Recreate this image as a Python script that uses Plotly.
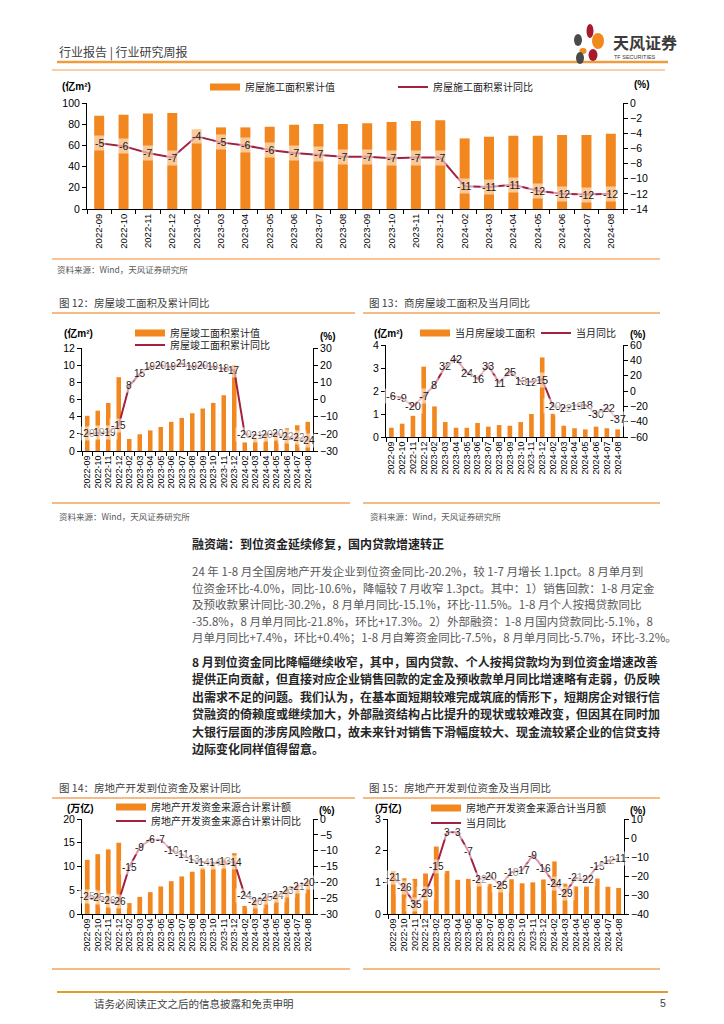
import plotly.graph_objects as go

# ---------------- data ----------------
categories = ["2022-09", "2022-10", "2022-11", "2022-12",
              "2023-02", "2023-03", "2023-04", "2023-05", "2023-06", "2023-07",
              "2023-08", "2023-09", "2023-10", "2023-11", "2023-12",
              "2024-02", "2024-03", "2024-04", "2024-05", "2024-06", "2024-07", "2024-08"]

# Chart (top): construction area, cumulative (亿m²) and cumulative YoY (%)
c1_bar = [88.0, 89.0, 90.0, 90.6, 75.3, 77.0, 77.0, 77.6, 79.5, 80.3, 80.2, 81.0,
          82.0, 83.0, 83.8, 66.6, 68.2, 69.1, 69.1, 69.8, 69.8, 71.0]
c1_line = [-5.3, -5.7, -6.6, -7.2, -4.4, -5.2, -5.6, -6.2, -6.6, -6.8, -7.1, -7.1,
           -7.3, -7.2, -7.2, -11.0, -11.1, -10.8, -11.6, -12.0, -12.1, -12.0]

# Fig 12: completed area cumulative (亿m²) and cumulative YoY (%)
c12_bar = [4.1, 4.7, 5.6, 8.6, 1.4, 1.95, 2.4, 2.8, 3.4, 3.85, 4.4, 4.95,
           5.6, 6.5, 10.0, 1.0, 1.55, 1.87, 2.22, 2.65, 3.0, 3.4]
c12_line = [-19.9, -19.3, -19.1, -15.0, 8.0, 15.0, 19.0, 20.0, 19.0, 21.0, 19.0, 20.0,
            19.0, 18.0, 17.0, -20.2, -20.7, -20.4, -19.6, -21.8, -22.2, -23.6]

# Fig 13: completed area monthly (亿m²) and monthly YoY (%)
c13_bar = [0.40, 0.58, 0.92, 3.06, 1.33, 0.65, 0.40, 0.40, 0.61, 0.45, 0.52, 0.49,
           0.65, 1.00, 3.46, 1.01, 0.49, 0.38, 0.33, 0.45, 0.38, 0.33]
c13_line = [-6, -9, -20, -7, 8, 32, 42, 24, 16, 33, 11, 25,
            13, 12, 15, -20, -22, -19, -18, -30, -22, -37]

# Fig 14: development funds cumulative (万亿) and cumulative YoY (%)
c14_bar = [11.4, 12.6, 13.6, 15.0, 2.3, 3.6, 4.6, 5.8, 6.9, 7.9, 8.9, 9.8,
           10.7, 11.7, 12.8, 1.7, 2.8, 3.6, 4.3, 5.4, 6.2, 7.1]
c14_line = [-24.6, -24.7, -25.7, -25.9, -15.2, -9.0, -6.4, -6.6, -9.8, -11.2, -12.9, -13.6,
            -13.8, -13.4, -13.6, -24.1, -26.0, -24.9, -24.3, -22.6, -21.3, -20.2]

# Fig 15: development funds monthly (万亿) and monthly YoY (%)
c15_bar = [1.36, 1.13, 1.11, 1.28, 2.13, 1.36, 1.08, 1.11, 1.02, 0.95, 0.97, 1.11,
           0.97, 1.00, 1.09, 1.66, 0.96, 0.87, 0.87, 1.12, 0.86, 0.82]
c15_line = [-21, -26, -35, -29, -15, 3, 3, -7, -22, -20, -25, -18,
            -17, -9, -16, -24, -29, -21, -22, -15, -12, -11]

# ---------------- page geometry helpers ----------------
# the page body has an 8 px default margin, so the figure is 8 px smaller
OFF = 8
W, H = 724 - OFF, 1024 - OFF
ORANGE = "#F3871F"
MAROON = "#A3203F"
CJK = "Noto Sans CJK SC"
LAT = "Liberation Sans, Arial, Noto Sans CJK SC"


def fx(px):
    return (px - OFF) / W


def fy(py):
    return 1 - (py - OFF) / H


fig = go.Figure()

charts = [
    dict(bar=c1_bar, line=c1_line, x0=87, x1=623, y0=103, y1=209,
         lr=[0, 100], ld=20, rr=[-14, 0], rd=2,
         bname="房屋施工面积累计值", lname="房屋施工面积累计同比",
         bleg=(247, 87), lleg=(435, 87), unit="(亿m²)", unitpos=(76, 86), pctpos=(642, 85),
         lsize=10.5, bargap=0.59, xsize=9.5),
    dict(bar=c12_bar, line=c12_line, x0=82, x1=313, y0=348, y1=451,
         lr=[0, 12], ld=2, rr=[-30, 30], rd=10,
         bname="房屋竣工面积累计值", lname="房屋竣工面积累计同比",
         bleg=(172, 333), lleg=(172, 345), unit="(亿m²)", unitpos=(78, 333), pctpos=(328, 336),
         lsize=10, bargap=0.57, xsize=9),
    dict(bar=c13_bar, line=c13_line, x0=386, x1=623, y0=345, y1=437,
         lr=[0, 4], ld=1, rr=[-60, 60], rd=20,
         bname="当月房屋竣工面积", lname="当月同比",
         bleg=(457, 333), lleg=(578, 333), unit="(亿m²)", unitpos=(389, 333), pctpos=(638, 334),
         lsize=11, bargap=0.57, xsize=9),
    dict(bar=c14_bar, line=c14_line, x0=82, x1=313, y0=819, y1=914,
         lr=[0, 20], ld=5, rr=[-30, 0], rd=5,
         bname="房地产开发资金来源合计累计额", lname="房地产开发资金来源合计累计同比",
         bleg=(153, 807), lleg=(153, 821), unit="(万亿)", unitpos=(80, 808), pctpos=(327, 810),
         lsize=10, bargap=0.55, xsize=9),
    dict(bar=c15_bar, line=c15_line, x0=388, x1=624, y0=819, y1=914,
         lr=[0, 3], ld=1, rr=[-40, 10], rd=10,
         bname="房地产开发资金来源合计当月额", lname="当月同比",
         bleg=(468, 808), lleg=(468, 823), unit="(万亿)", unitpos=(388, 808), pctpos=(638, 810),
         lsize=10, bargap=0.55, xsize=9),
]

annotations = []
shapes = []
layout_axes = {}
legends = {}


def axname(prefix, n):
    return prefix if n == 1 else f"{prefix}{n}"


for k, c in enumerate(charts):
    xn = k + 1
    yl = 2 * k + 1
    yr = 2 * k + 2
    xref = axname("x", xn)
    ylref = axname("y", yl)
    yrref = axname("y", yr)
    leg_b = axname("legend", 2 * k + 1)
    leg_l = axname("legend", 2 * k + 2)

    fig.add_trace(go.Bar(x=categories, y=c["bar"], marker_color=ORANGE, marker_line_width=0,
                         width=1 - c["bargap"],
                         xaxis=xref, yaxis=ylref, showlegend=False, name=c["bname"]))
    # legend key for the bars, drawn as a wide band like the original key
    fig.add_trace(go.Scatter(x=[None], y=[None], mode="lines", name=c["bname"],
                             line=dict(color=ORANGE, width=7), xaxis=xref, yaxis=ylref,
                             legend=leg_b, showlegend=True))
    fig.add_trace(go.Scatter(x=categories, y=c["line"], mode="lines", name=c["lname"],
                             line=dict(color=MAROON, width=2), xaxis=xref, yaxis=yrref,
                             legend=leg_l, showlegend=True))

    for cat, v in zip(categories, c["line"]):
        annotations.append(dict(x=cat, y=v, xref=xref, yref=yrref, text=f"{v:.0f}",
                                showarrow=False, font=dict(size=c["lsize"], color="#1a1a1a", family=LAT),
                                bgcolor="rgba(255,255,255,0.55)", borderpad=1))

    axis_common = dict(showgrid=False, zeroline=False, showline=True, linecolor="#000000",
                       linewidth=1, ticks="outside", ticklen=4, tickcolor="#000000", automargin=False,
                       tickfont=dict(size=10.5, color="#000000", family=LAT))
    layout_axes[axname("xaxis", xn)] = dict(
        domain=[fx(c["x0"]), fx(c["x1"])], anchor=ylref, type="category",
        range=[-0.5, len(categories) - 0.5], tickangle=-90, tickson="boundaries",
        tickmode="array", tickvals=categories, ticktext=categories, automargin=False,
        showgrid=False, zeroline=False, showline=True, linecolor="#000000", linewidth=1,
        ticks="outside", ticklen=4, tickcolor="#000000",
        tickfont=dict(size=c["xsize"], color="#000000", family=LAT))
    layout_axes[axname("yaxis", yl)] = dict(domain=[fy(c["y1"]), fy(c["y0"])], anchor=xref,
                                            range=c["lr"], dtick=c["ld"], **axis_common)
    layout_axes[axname("yaxis", yr)] = dict(overlaying=ylref, anchor=xref, side="right",
                                            range=c["rr"], dtick=c["rd"], **axis_common)
    legends[leg_b] = dict(x=fx(c["bleg"][0] - 42), y=fy(c["bleg"][1]), xanchor="left", yanchor="middle",
                          bgcolor="rgba(0,0,0,0)", borderwidth=0, itemwidth=30,
                          font=dict(size=10, family=CJK, color="#222222"))
    legends[leg_l] = dict(x=fx(c["lleg"][0] - 42), y=fy(c["lleg"][1]), xanchor="left", yanchor="middle",
                          bgcolor="rgba(0,0,0,0)", borderwidth=0, itemwidth=30,
                          font=dict(size=10, family=CJK, color="#222222"))
    annotations.append(dict(x=fx(c["unitpos"][0]), y=fy(c["unitpos"][1]), xref="paper", yref="paper",
                            text=f"<b>{c['unit']}</b>", showarrow=False, xanchor="center", yanchor="middle",
                            font=dict(size=10, family=LAT, color="#000000")))
    annotations.append(dict(x=fx(c["pctpos"][0]), y=fy(c["pctpos"][1]), xref="paper", yref="paper",
                            text="<b>(%)</b>", showarrow=False, xanchor="center", yanchor="middle",
                            font=dict(size=10, family=LAT, color="#000000")))


def text(x, y, s, size=10.5, color="#404040", anchor="left", family=CJK):
    annotations.append(dict(x=fx(x), y=fy(y), xref="paper", yref="paper", text=s, showarrow=False,
                            xanchor=anchor, yanchor="middle", font=dict(size=size, color=color, family=family)))


def hline(x0, x1, y, color, width):
    shapes.append(dict(type="line", xref="paper", yref="paper", x0=fx(x0), x1=fx(x1), y0=fy(y), y1=fy(y),
                       line=dict(color=color, width=width)))


# header
text(57, 52, "行业报告 | 行业研究周报", size=12, color="#404040")
hline(57, 668, 62, "#F29A3E", 2.5)
hline(52, 665, 70, "#F8BF8A", 1.5)
text(611, 42, "<b>天风证券</b>", size=16, color="#3a3a3a")
text(612, 57, "TF SECURITIES", size=5.5, color="#3a3a3a", family=LAT)
# logo petals
for (cx, cy, rx, ry, col) in [(590, 31, 3.5, 7, "#A6192E"), (578, 40, 4, 6, "#4A4A4A"),
                              (598, 41, 6, 8, "#F08A1C"), (583, 51, 3.5, 3, "#F08A1C"),
                              (593, 55, 4.5, 6, "#A6192E"), (580, 58, 4, 6, "#4A4A4A")]:
    shapes.append(dict(type="circle", xref="paper", yref="paper", x0=fx(cx - rx), x1=fx(cx + rx),
                       y0=fy(cy + ry), y1=fy(cy - ry), fillcolor=col, line=dict(width=0)))

# top chart frame
hline(52, 660, 259, "#F8B070", 1.5)
text(55, 269, "资料来源：Wind，天风证券研究所", size=8.5, color="#595959")

# figs 12/13
text(57, 303, "图 12：房屋竣工面积及累计同比", size=10.5)
text(367, 303, "图 13：商房屋竣工面积及当月同比", size=10.5)
hline(52, 355, 313, "#F5A35A", 1.5)
hline(363, 660, 313, "#F5A35A", 1.5)
hline(52, 350, 503, "#F5A35A", 1.5)
hline(363, 660, 503, "#F5A35A", 1.5)
text(57, 516, "资料来源：Wind，天风证券研究所", size=8.5, color="#595959")
text(368, 516, "资料来源：Wind，天风证券研究所", size=8.5, color="#595959")

# body text
text(190, 543, "<b>融资端：到位资金延续修复，国内贷款增速转正</b>", size=12, color="#222222")
para1 = [
    "24 年 1-8 月全国房地产开发企业到位资金同比-20.2%，较 1-7 月增长 1.1pct。8 月单月到",
    "位资金环比-4.0%，同比-10.6%，降幅较 7 月收窄 1.3pct。其中：1）销售回款：1-8 月定金",
    "及预收款累计同比-30.2%，8 月单月同比-15.1%，环比-11.5%。1-8 月个人按揭贷款同比",
    "-35.8%，8 月单月同比-21.8%，环比+17.3%。2）外部融资：1-8 月国内贷款同比-5.1%，8",
    "月单月同比+7.4%，环比+0.4%；1-8 月自筹资金同比-7.5%，8 月单月同比-5.7%，环比-3.2%。",
]
for i, s in enumerate(para1):
    text(190, 571 + i * 16.6, s, size=11.5, color="#595959")
para2 = [
    "8 月到位资金同比降幅继续收窄，其中，国内贷款、个人按揭贷款均为到位资金增速改善",
    "提供正向贡献，但直接对应企业销售回款的定金及预收款单月同比增速略有走弱，仍反映",
    "出需求不足的问题。我们认为，在基本面短期较难完成筑底的情形下，短期房企对银行信",
    "贷融资的倚赖度或继续加大，外部融资结构占比提升的现状或较难改变，但因其在同时加",
    "大银行层面的涉房风险敞口，故未来针对销售下滑幅度较大、现金流较紧企业的信贷支持",
    "边际变化同样值得留意。",
]
for i, s in enumerate(para2):
    text(190, 661 + i * 17.5, f"<b>{s}</b>", size=12, color="#262626")

# figs 14/15
text(57, 787, "图 14：房地产开发到位资金及累计同比", size=10.5)
text(367, 787, "图 15：房地产开发到位资金及当月同比", size=10.5)
hline(52, 355, 798, "#F5A35A", 1.5)
hline(363, 660, 798, "#F5A35A", 1.5)
hline(52, 350, 969, "#F5A35A", 1.5)
hline(363, 660, 969, "#F5A35A", 1.5)

# footer
hline(57, 668, 992, "#E39B2E", 2)
text(92, 1003, "请务必阅读正文之后的信息披露和免责申明", size=10.5, color="#404040")
text(668, 1003, "5", size=10.5, color="#404040", anchor="right", family=LAT)

fig.update_layout(width=W, height=H, margin=dict(l=0, r=0, t=0, b=0, pad=0, autoexpand=False),
                  paper_bgcolor="white", plot_bgcolor="rgba(0,0,0,0)",
                  barmode="overlay", annotations=annotations, shapes=shapes,
                  font=dict(family=LAT), **layout_axes, **legends)

fig.write_html("out.html")
